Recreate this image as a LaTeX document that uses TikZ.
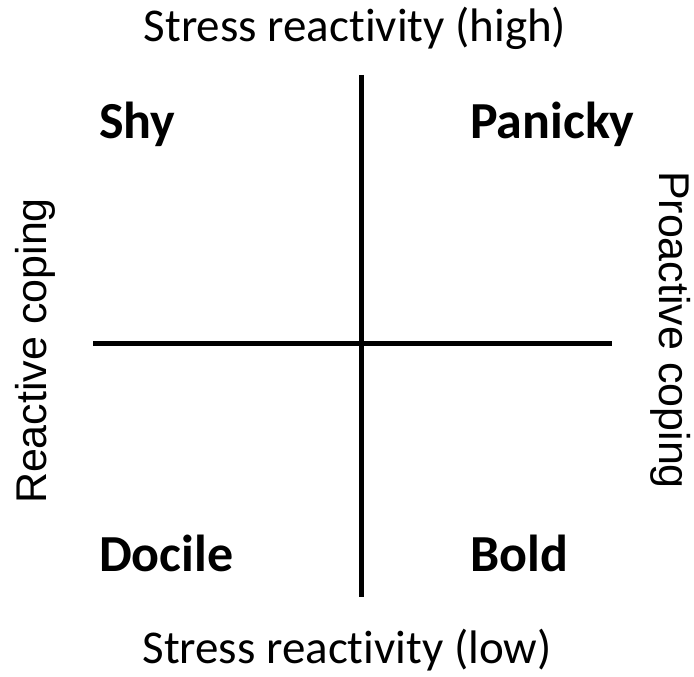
\documentclass[tikz,border=0pt]{standalone}
\usepackage{fontspec}
\setmainfont{Carlito}[Ligatures=CommonOff]
\newfontfamily\arialfont{Liberation Sans}
\begin{document}
\begin{tikzpicture}[x=1pt,y=-1pt,
  axis/.style={line width=5pt},
  lab/.style={font=\fontsize{47}{52}\selectfont, inner sep=0pt, anchor=base},
  side/.style={font=\arialfont\fontsize{43}{50}\selectfont, inner sep=0pt, anchor=base},
  quad/.style={font=\fontsize{52}{58}\selectfont\bfseries, inner sep=0pt, anchor=base west}]
\useasboundingbox (0,0) rectangle (694,677);
\coordinate (vt) at (361,75);
\coordinate (vb) at (361,597);
\coordinate (hl) at (93,343.5);
\coordinate (hr) at (612,343.5);
\draw[axis] (vt) -- (vb);
\draw[axis] (hl) -- (hr);
\node[lab] (top) at (355,42) {Stress reactivity (high)};
\node[lab] (bot) at (347,663) {Stress reactivity (low)};
\node[side, rotate=90] (left) at (46,351) {Reactive coping};
\node[side, rotate=-90] (right) at (659,330) {Proactive coping};
\node[quad] (shy) at (99,139) {Shy};
\node[quad] (pan) at (470,139) {Panicky};
\node[quad] (doc) at (99,571) {Docile};
\node[quad] (bold) at (470,571) {Bold};
\end{tikzpicture}
\end{document}
